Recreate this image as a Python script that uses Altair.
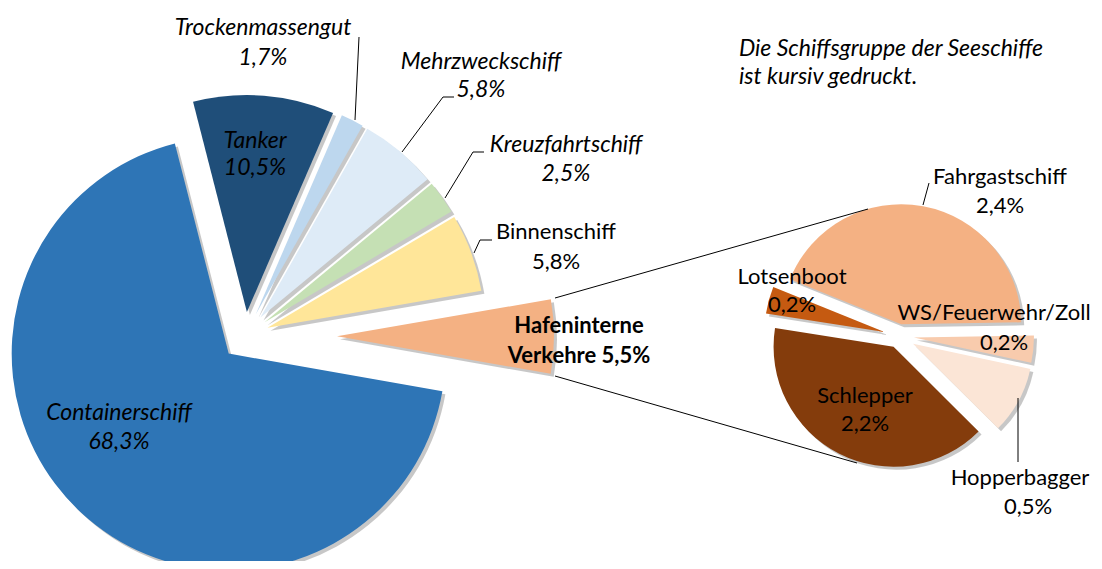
import math
import altair as alt
import pandas as pd

# ---------------- data ----------------
main_cats = ["Containerschiff", "Tanker", "Trockenmassengut", "Mehrzweckschiff",
             "Kreuzfahrtschiff", "Binnenschiff", "Hafeninterne Verkehre"]
main_vals = [68.3, 10.5, 1.7, 5.8, 2.5, 5.8, 5.5]

sub_cats = ["Fahrgastschiff", "WS/Feuerwehr/Zoll", "Hopperbagger", "Schlepper", "Lotsenboot"]
sub_vals = [2.4, 0.2, 0.5, 2.2, 0.2]

note_lines = ["Die Schiffsgruppe der Seeschiffe", "ist kursiv gedruckt."]

# ---------------- style ----------------
main_colors = ["#2E75B6", "#1F4E79", "#BDD7EE", "#DEEBF7", "#C5E0B4", "#FFE699", "#F4B183"]
sub_colors = ["#F4B183", "#F8CBAD", "#FBE5D6", "#843C0C", "#C55A11"]
main_explode = [24, 24, 24, 24, 24, 24, 92]
sub_explode = [12, 15, 16, 12, 15]
MAIN_C, MAIN_R, MAIN_START = (245, 336), 217, 100.0
SUB_C, SUB_R, SUB_START = (899, 336), 120, 292.0
OFF = 8  # page margin
FONT = "Lato"
FS_ITALIC = 23
FS_NORMAL = 22
SHADOW = 3

# label anchors (reference pixel positions: x line1, y line1, x line2, y line2, style)
label_pos = {
    "Containerschiff": (119, 413, 119, 442, "italic"),
    "Tanker": (255, 141, 255, 168, "italic"),
    "Trockenmassengut": (263, 28, 263, 58, "italic"),
    "Mehrzweckschiff": (481, 62, 481, 90, "italic"),
    "Kreuzfahrtschiff": (566, 145, 566, 174, "italic"),
    "Binnenschiff": (556, 232, 556, 262, "normal"),
    "Hafeninterne Verkehre": (579, 326, 579, 356, "bold"),
    "Fahrgastschiff": (1000, 177, 1000, 206, "normal"),
    "WS/Feuerwehr/Zoll": (994, 313, 1004, 343, "normal"),
    "Hopperbagger": (1020, 478, 1028, 507, "normal"),
    "Schlepper": (865, 396, 865, 424, "normal"),
    "Lotsenboot": (792, 277, 792, 305, "normal"),
}
leader_segments = [
    (359, 37, 355, 120),
    (454, 97, 443, 97), (443, 97, 402, 152),
    (484, 152, 473, 152), (473, 152, 445, 198),
    (492, 240, 480, 240), (480, 240, 474, 253),
    (929, 183, 923, 205),
    (1018, 398, 1018, 462),
    (555, 298, 868, 209),
    (555, 376, 857, 463),
]


def pct(v):
    return f"{v:.1f}".replace(".", ",") + "%"


def pie_df(cats, vals, explode):
    return pd.DataFrame({"cat": cats, "value": vals, "explode": explode,
                         "order": list(range(len(cats)))})


color_scale = alt.Scale(domain=main_cats + sub_cats, range=main_colors + sub_colors)


def pie_layers(df, center, radius, start_deg):
    total = float(df["value"].sum())
    s0 = math.radians(start_deg)
    base = (
        alt.Chart(df)
        .transform_window(cum="sum(value)", sort=[alt.SortField("order")], frame=[None, 0])
        .transform_calculate(
            s="datum.cum - datum.value",
            mid=f"{s0} + (datum.cum - datum.value / 2) / {total} * 2 * PI",
        )
        .transform_calculate(
            cx=f"{center[0] - OFF} + datum.explode * sin(datum.mid)",
            cy=f"{center[1] - OFF} - datum.explode * cos(datum.mid)",
        )
        .transform_calculate(sx=f"datum.cx + {SHADOW}", sy=f"datum.cy + {SHADOW}")
    )
    theta = alt.Theta("s:Q", scale=alt.Scale(domain=[0, total], range=[s0, s0 + 2 * math.pi]))
    shadow = base.mark_arc(outerRadius=radius, color="#000000", opacity=0.22).encode(
        theta=theta, theta2="cum:Q",
        x=alt.X("sx:Q", scale=None), y=alt.Y("sy:Q", scale=None),
    )
    arcs = base.mark_arc(outerRadius=radius).encode(
        theta=theta, theta2="cum:Q",
        x=alt.X("cx:Q", scale=None), y=alt.Y("cy:Q", scale=None),
        color=alt.Color("cat:N", scale=color_scale, legend=None),
    )
    return shadow, arcs


main_df = pie_df(main_cats, main_vals, main_explode)
sub_df = pie_df(sub_cats, sub_vals, sub_explode)
m_shadow, m_arcs = pie_layers(main_df, MAIN_C, MAIN_R, MAIN_START)
s_shadow, s_arcs = pie_layers(sub_df, SUB_C, SUB_R, SUB_START)

# label table
rows = []
for cat, v in zip(main_cats + sub_cats, main_vals + sub_vals):
    x1, y1, x2, y2, st = label_pos[cat]
    if cat == "Hafeninterne Verkehre":
        l1, l2 = "Hafeninterne", "Verkehre " + pct(v)
    else:
        l1, l2 = cat, pct(v)
    rows.append({"t": l1, "x": x1 - OFF, "y": y1 - OFF, "st": st})
    rows.append({"t": l2, "x": x2 - OFF, "y": y2 - OFF, "st": st})
for i, line in enumerate(note_lines):
    rows.append({"t": line, "x": 739 - OFF, "y": 49 + 28 * i - OFF, "st": "note"})
lab = pd.DataFrame(rows)


def text_layer(style, size, **kw):
    return alt.Chart(lab).transform_filter(f"datum.st == '{style}'").mark_text(
        font=FONT, fontSize=size, color="#000000", baseline="middle", **kw
    ).encode(x=alt.X("x:Q", scale=None), y=alt.Y("y:Q", scale=None), text="t:N")


t_italic = text_layer("italic", FS_ITALIC, fontStyle="italic", align="center")
t_normal = text_layer("normal", FS_NORMAL, align="center")
t_bold = text_layer("bold", FS_NORMAL, fontWeight="bold", align="center")
t_note = text_layer("note", FS_ITALIC, fontStyle="italic", align="left")

seg = pd.DataFrame([{"x": a - OFF, "y": b - OFF, "x2": c - OFF, "y2": d - OFF}
                    for a, b, c, d in leader_segments])
rules = alt.Chart(seg).mark_rule(color="#000000", strokeWidth=1).encode(
    x=alt.X("x:Q", scale=None), y=alt.Y("y:Q", scale=None), x2="x2:Q", y2="y2:Q"
)

chart = (
    alt.layer(m_shadow, s_shadow, m_arcs, s_arcs, rules, t_italic, t_normal, t_bold, t_note)
    .resolve_scale(theta="independent")
    .properties(width=1086, height=553, autosize=alt.AutoSizeParams(type="none"), padding=0)
    .configure_view(stroke=None)
)

chart.save("out.html", embed_options={"renderer": "svg", "actions": False})
